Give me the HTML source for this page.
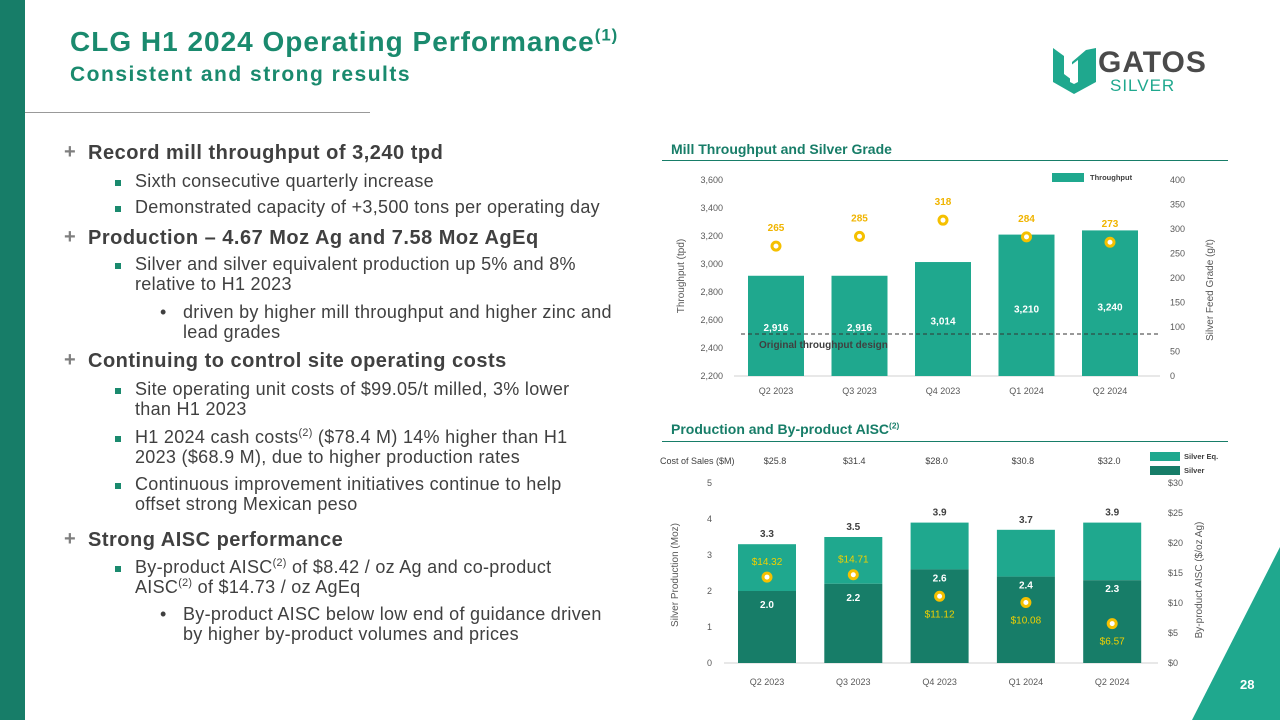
<!DOCTYPE html>
<html><head><meta charset="utf-8"><style>
body{margin:0;width:1280px;height:720px;overflow:hidden;background:#fff;font-family:"Liberation Sans",sans-serif;position:relative}
.a{position:absolute;white-space:nowrap}
.h{font-size:20px;color:#404040;font-weight:bold;letter-spacing:0.5px}
.s{font-size:18px;color:#404040;letter-spacing:0.3px}
.p{color:#7f7f7f;font-weight:bold;font-size:20px}
.sq{width:6px;height:6px;background:#1a8a6e;position:absolute}
sup{font-size:60%;line-height:0}
</style></head><body>
<div class="a" style="left:0;top:0;width:25px;height:720px;background:#177d68"></div>
<div class="a" style="left:1192px;top:547px;width:88px;height:173px;background:#1fa88e;clip-path:polygon(100% 0,100% 100%,0 100%)"></div>
<div class="a" style="left:1240px;top:677px;font-size:13px;font-weight:bold;color:#fff">28</div>
<div class="a" style="left:70px;top:26px;font-size:28px;font-weight:bold;color:#1a8a6e;letter-spacing:1px">CLG H1 2024 Operating Performance<sup>(1)</sup></div>
<div class="a" style="left:70px;top:63px;font-size:21px;font-weight:bold;color:#1a8a6e;letter-spacing:1.5px">Consistent and strong results</div>
<div class="a" style="left:25px;top:112px;width:345px;height:1px;background:#999"></div>
<div class="a" style="left:1050px;top:44px;width:170px;height:52px">
<svg width="50" height="52" viewBox="0 0 50 52"><path d="M3 4 L14 12 L14 30 L22 36 L22 18 L36 6 L46 4 L46 38 L24 50 L3 38 Z" fill="#1fa88e"/><path d="M20 22 L28 16 L28 38 L24 40 L20 38 Z" fill="#fff"/></svg>
<div class="a" style="left:48px;top:2px;font-size:30px;font-weight:bold;color:#4a4a4a;letter-spacing:1px">GATOS</div>
<div class="a" style="left:60px;top:32px;font-size:17px;color:#1fa88e;letter-spacing:1px">SILVER</div>
</div>

<div>
<div class="a p" style="left:64px;top:141px">+</div><div class="a h" style="left:88px;top:142px">Record mill throughput of 3,240 tpd</div>
<div class="sq" style="left:115px;top:180px"></div><div class="a s" style="left:135px;top:171px">Sixth consecutive quarterly increase</div>
<div class="sq" style="left:115px;top:206px"></div><div class="a s" style="left:135px;top:197px">Demonstrated capacity of +3,500 tons per operating day</div>
<div class="a p" style="left:64px;top:226px">+</div><div class="a h" style="left:88px;top:227px">Production – 4.67 Moz Ag and 7.58 Moz AgEq</div>
<div class="sq" style="left:115px;top:263px"></div><div class="a s" style="left:135px;top:254px">Silver and silver equivalent production up 5% and 8%</div>
<div class="a s" style="left:135px;top:274px">relative to H1 2023</div>
<div class="a s" style="left:160px;top:302px">•</div><div class="a s" style="left:183px;top:302px">driven by higher mill throughput and higher zinc and</div>
<div class="a s" style="left:183px;top:322px">lead grades</div>
<div class="a p" style="left:64px;top:349px">+</div><div class="a h" style="left:88px;top:350px">Continuing to control site operating costs</div>
<div class="sq" style="left:115px;top:388px"></div><div class="a s" style="left:135px;top:379px">Site operating unit costs of $99.05/t milled, 3% lower</div>
<div class="a s" style="left:135px;top:399px">than H1 2023</div>
<div class="sq" style="left:115px;top:436px"></div><div class="a s" style="left:135px;top:427px">H1 2024 cash costs<sup>(2)</sup> ($78.4 M) 14% higher than H1</div>
<div class="a s" style="left:135px;top:447px">2023 ($68.9 M), due to higher production rates</div>
<div class="sq" style="left:115px;top:483px"></div><div class="a s" style="left:135px;top:474px">Continuous improvement initiatives continue to help</div>
<div class="a s" style="left:135px;top:494px">offset strong Mexican peso</div>
<div class="a p" style="left:64px;top:528px">+</div><div class="a h" style="left:88px;top:529px">Strong AISC performance</div>
<div class="sq" style="left:115px;top:566px"></div><div class="a s" style="left:135px;top:557px">By-product AISC<sup>(2)</sup> of $8.42 / oz Ag and co-product</div>
<div class="a s" style="left:135px;top:577px">AISC<sup>(2)</sup> of $14.73 / oz AgEq</div>
<div class="a s" style="left:160px;top:604px">•</div><div class="a s" style="left:183px;top:604px">By-product AISC below low end of guidance driven</div>
<div class="a s" style="left:183px;top:624px">by higher by-product volumes and prices</div>
</div>

<div class="a" style="left:671px;top:141px;font-size:14px;font-weight:bold;color:#177d68">Mill Throughput and Silver Grade</div>
<div class="a" style="left:662px;top:160px;width:566px;height:1px;background:#177d68"></div>
<div class="a" style="left:671px;top:421px;font-size:14px;font-weight:bold;color:#177d68">Production and By-product AISC<sup>(2)</sup></div>
<div class="a" style="left:662px;top:441px;width:566px;height:1px;background:#177d68"></div>

<svg class="a" style="left:0;top:0" width="1280" height="720" id="svg" font-family="Liberation Sans, sans-serif"></svg>
<script>
const cats=["Q2 2023","Q3 2023","Q4 2023","Q1 2024","Q2 2024"];
const throughput=[2916,2916,3014,3210,3240];
const grade=[265,285,318,284,273];
const tpTicks=[2200,2400,2600,2800,3000,3200,3400,3600];
const gradeTicks=[0,50,100,150,200,250,300,350,400];
const designLine=2500;
const silver=[2.0,2.2,2.6,2.4,2.3];
const silverEq=[3.3,3.5,3.9,3.7,3.9];
const aisc=[14.32,14.71,11.12,10.08,6.57];
const costSales=["$25.8","$31.4","$28.0","$30.8","$32.0"];
const prodTicks=[0,1,2,3,4,5];
const aiscTicks=[0,5,10,15,20,25,30];

const svg=document.getElementById('svg');
const NS='http://www.w3.org/2000/svg';
function el(t,a,txt){const e=document.createElementNS(NS,t);for(const k in a)e.setAttribute(k,a[k]);if(txt!==undefined)e.textContent=txt;svg.appendChild(e);return e;}
function tx(x,y,s,size,fill,anchor,weight){return el('text',{x:x,y:y,'font-size':size,fill:fill,'text-anchor':anchor||'middle','font-weight':weight||'normal'},s);}

// chart 1
const x1=i=>776+i*83.5;
const y1=v=>376-(v-2200)/1400*196;
const g1=v=>376-v/400*196;
el('line',{x1:734,x2:1160,y1:376,y2:376,stroke:'#d0d0d0'});
tpTicks.forEach(t=>{const e=tx(723,y1(t)+3,t.toLocaleString('en-US'),9,'#595959','end');});
gradeTicks.forEach(t=>{const e=tx(1170,g1(t)+3,t,9,'#595959','start');});
cats.forEach((c,i)=>{
 const b=el('rect',{x:x1(i)-28,y:y1(throughput[i]),width:56,height:376-y1(throughput[i]),fill:'#1fa88e'});
 
 
 tx(x1(i),y1(throughput[i])+ (376-y1(throughput[i]))*0.55,throughput[i].toLocaleString('en-US'),10,'#fff','middle','bold');
 tx(x1(i),394,c,9,'#595959');
 const p=el('circle',{cx:x1(i),cy:g1(grade[i]),r:4,fill:'#fff',stroke:'#f5c000','stroke-width':3});
 
 
 tx(x1(i),g1(grade[i])-15,grade[i],10,'#f0b400','middle','bold');
});
el('line',{x1:741,x2:1160,y1:y1(designLine),y2:y1(designLine),stroke:'#333','stroke-dasharray':'4,3'});
tx(759,y1(designLine)+14,'Original throughput design',10,'#404040','start','bold');
el('rect',{x:1052,y:173,width:32,height:9,fill:'#1fa88e'});
tx(1090,180,'Throughput',7.5,'#404040','start','bold');
el('text',{x:0,y:0,'font-size':10,fill:'#595959',transform:'translate(684,276) rotate(-90)','text-anchor':'middle'},'Throughput (tpd)');
el('text',{x:0,y:0,'font-size':10,fill:'#595959',transform:'translate(1213,290) rotate(-90)','text-anchor':'middle'},'Silver Feed Grade (g/t)');

// chart 2
const x2=i=>767+i*86.3;
const y2=v=>663-v*36;
const a2=v=>663-v/30*180;
el('line',{x1:724,x2:1158,y1:663,y2:663,stroke:'#d0d0d0'});
prodTicks.forEach(t=>tx(712,y2(t)+3,t,9,'#595959','end'));
aiscTicks.forEach(t=>tx(1168,a2(t)+3,'$'+t,9,'#595959','start'));
tx(660,464,'Cost of Sales ($M)',9,'#404040','start');
cats.forEach((c,i)=>{
 const e=el('rect',{x:x2(i)-29,y:y2(silverEq[i]),width:58,height:y2(silver[i])-y2(silverEq[i]),fill:'#1fa88e'});
 
 
 const s=el('rect',{x:x2(i)-29,y:y2(silver[i]),width:58,height:663-y2(silver[i]),fill:'#177d68'});
 
 
 tx(x2(i),y2(silverEq[i])-7,silverEq[i].toFixed(1),10,'#404040','middle','bold');
 tx(x2(i),y2(silver[i])+(i<2?17:12),silver[i].toFixed(1),10,'#fff','middle','bold');
 const p=el('circle',{cx:x2(i),cy:a2(aisc[i]),r:4,fill:'#fff',stroke:'#f5c000','stroke-width':3});
 
 
 tx(x2(i),a2(aisc[i])+(i<2?-12:21),'$'+aisc[i].toFixed(2),10,'#f0d000');
 tx(x2(i)+(i===0?11:i===1?4:0)-3,464,costSales[i],9,'#404040');
 tx(x2(i),685,c,9,'#595959');
});
el('rect',{x:1150,y:452,width:30,height:9,fill:'#1fa88e'});
tx(1184,459,'Silver Eq.',7.5,'#404040','start','bold');
el('rect',{x:1150,y:466,width:30,height:9,fill:'#177d68'});
tx(1184,473,'Silver',7.5,'#404040','start','bold');
el('text',{x:0,y:0,'font-size':10,fill:'#595959',transform:'translate(678,575) rotate(-90)','text-anchor':'middle'},'Silver Production (Moz)');
el('text',{x:0,y:0,'font-size':10,fill:'#595959',transform:'translate(1202,580) rotate(-90)','text-anchor':'middle'},'By-product AISC ($/oz Ag)');
</script>
</body></html>
